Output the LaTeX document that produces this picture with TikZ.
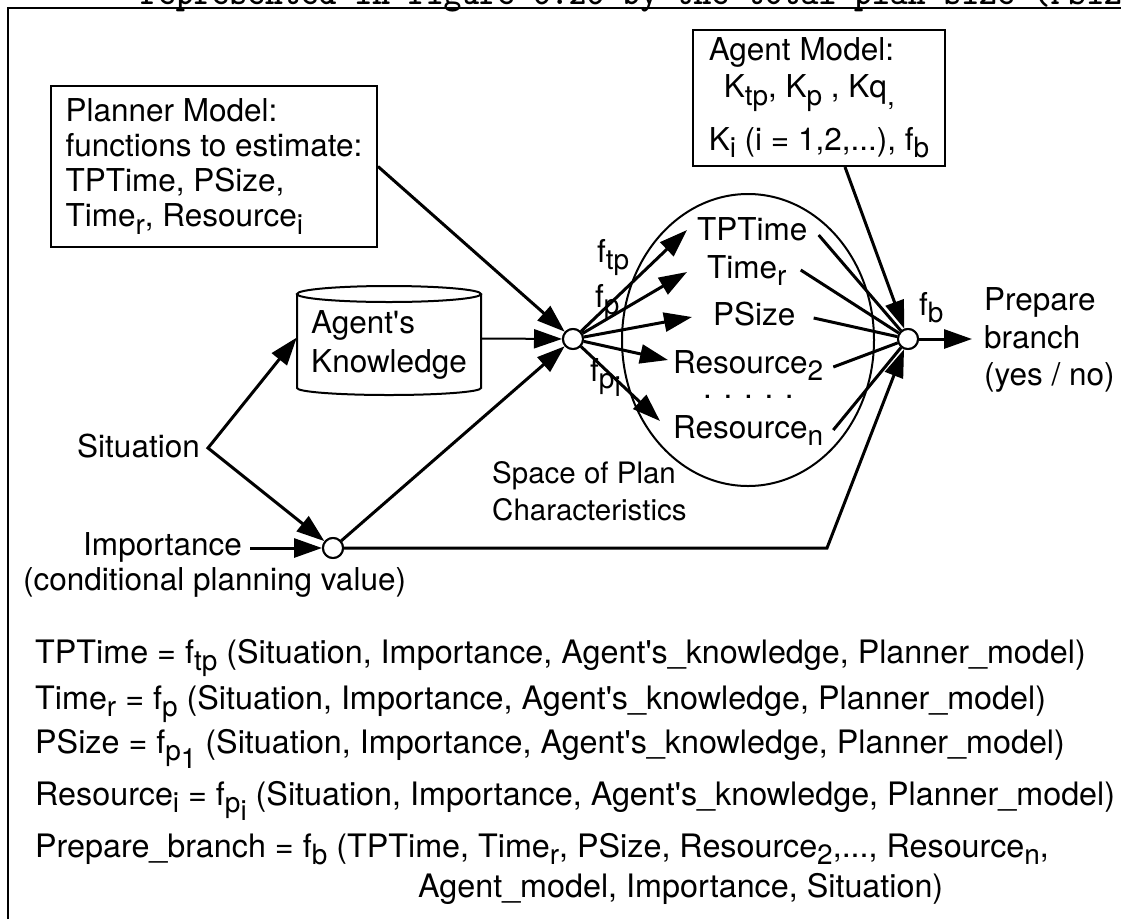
\documentclass[tikz,border=0pt]{standalone}
\usepackage{fontspec}
\setmainfont{TeX Gyre Heros}
\usetikzlibrary{arrows.meta,shapes.geometric,calc}
\newcommand{\lo}[1]{\raisebox{-7.5pt}{\fontsize{28}{30}\selectfont #1}}
\newcommand{\apo}{\textquotesingle}
\begin{document}
\begin{tikzpicture}[x=1pt,y=-1pt,
  font=\fontsize{31.5}{35}\selectfont,
  arr/.style={line width=3pt,-{Triangle[length=28pt,width=19pt]}},
  ln/.style={line width=3pt},
  box/.style={draw,line width=2pt,align=left},
  dot/.style={circle,draw,line width=2pt,fill=white,minimum size=20pt,inner sep=0pt},
  lbl/.style={inner sep=0pt,anchor=base west},
  eqn/.style={inner sep=0pt,anchor=base west,font=\fontsize{32.3}{36}\selectfont}]
\useasboundingbox (0,0) rectangle (1121,919);
\begin{scope}
\clip (0,0) rectangle (1121,919);
\node[inner sep=0pt,anchor=base west,font=\ttfamily\bfseries\fontsize{34}{34}\selectfont] (toptext) at (140,4)
  {\makebox[1015pt][s]{represented in figure 6.26 by the total plan size (PSize}};
\end{scope}
% frame
\draw[line width=2.5pt] (8,919) -- (8,8) -- (1121,8);

% boxes
\node[box,minimum width=326pt,minimum height=161pt,inner xsep=14pt] (pm) at (214,166.5)
  {Planner Model:\\functions to estimate:\\TPTime, PSize,\\Time\lo{r}, Resource\lo{i}};
\node[box,minimum width=252pt,minimum height=136pt,inner xsep=12pt] (am) at (819,98)
  {Agent Model:\\[2pt]\hspace*{15pt}K\lo{tp}, K\lo{p} , Kq\lo{,}\\[15pt]K\lo{i} (i = 1,2,...), f\lo{b}};

% cylinder
\node[inner sep=0pt,minimum width=184pt,minimum height=101pt,align=left] (ak) at (389,344.5)
  {Agent\apo s\\[4pt]Knowledge};
\draw[line width=2pt] (389,294) ellipse [x radius=92, y radius=8];
\draw[line width=2pt] (297,294) -- (297,388) arc[start angle=180,end angle=0,x radius=92,y radius=7] -- (481,294);

% ellipse
\node[ellipse,draw,line width=2pt,minimum width=252pt,minimum height=292pt,inner sep=0pt] (space) at (748,340) {};

% circles
\node[dot] (fp) at (573,339) {};
\node[dot] (fb) at (908,339) {};
\node[dot] (imp) at (333,548) {};
\coordinate (sit) at (208,448);
\coordinate (bend) at (827,548);
\coordinate (impstart) at (250,548);
\coordinate (outend) at (972,339);

% labels
\node[lbl] (tpt) at (697,240) {TPTime};
\node[lbl] (tr) at (707,278) {Time\lo{r}};
\node[lbl] (ps) at (713,325) {PSize};
\node[lbl] (r2) at (673,373) {Resource\lo{2}};
\node[lbl] (dots) at (703,398) {. . . . .};
\node[lbl] (rn) at (673,438) {Resource\lo{n}};
\node[lbl] (ftp) at (597,262) {f\lo{tp}};
\node[lbl] (fpl) at (595,307) {f\lo{p}};
\node[lbl] (fpi) at (590,381) {f\lo{p\lo{i}}};
\node[lbl] (fbl) at (919,315) {f\lo{b}};
\node[lbl] (pb1) at (984,310) {Prepare};
\node[lbl] (pb2) at (984,348) {branch};
\node[lbl] (pb3) at (984,385) {(yes / no)};
\node[inner sep=0pt,anchor=base east] (sitt) at (200,457) {Situation};
\node[lbl] (impt) at (83,555) {Importance};
\node[lbl] (cpv) at (23,590) {(conditional planning value)};
\node[lbl,font=\fontsize{29.5}{33}\selectfont] (sp1) at (492,483) {Space of Plan};
\node[lbl,font=\fontsize{29.5}{33}\selectfont] (sp2) at (492,520) {Characteristics};

% equations
\node[eqn] (eq1) at (35,663) {TPTime = f\lo{tp} (Situation, Importance, Agent\apo s\_knowledge, Planner\_model)};
\node[eqn] (eq2) at (35,709) {Time\lo{r} = f\lo{p} (Situation, Importance, Agent\apo s\_knowledge, Planner\_model)};
\node[eqn] (eq3) at (35,753) {PSize = f\lo{p\lo{1}} (Situation, Importance, Agent\apo s\_knowledge, Planner\_model)};
\node[eqn] (eq4) at (35,805) {Resource\lo{i} = f\lo{p\lo{i}} (Situation, Importance, Agent\apo s\_knowledge, Planner\_model)};
\node[eqn] (eq5) at (35,857) {Prepare\_branch = f\lo{b} (TPTime, Time\lo{r}, PSize, Resource\lo{2},..., Resource\lo{n},};
\node[eqn] (eq6) at (418,897) {Agent\_model, Importance, Situation)};

% connectors
\draw[arr] (pm.east) -- (fp);
\draw[arr,line width=2pt] ([yshift=6pt]ak.east) -- (fp);
\draw[line width=3pt,{Triangle[length=28pt,width=19pt]}-{Triangle[length=28pt,width=19pt]}] ([yshift=7pt]ak.west) -- (sit) -- (imp);
\draw[arr] (impstart) -- (imp);
\draw[arr] (imp) -- (fp);
\draw[arr] (imp) -- (bend) -- (fb);
\draw[arr] ([xshift=26pt]am.south) -- (fb);
\draw[arr] (fb) -- (outend);

\draw[arr] (fp) -- ($(tpt.base west)+(-10,-10)$);
\draw[arr] (fp) -- ($(tr.base west)+(-20,-6)$);
\draw[arr] (fp) -- ($(ps.base west)+(-21,-8)$);
\draw[arr] (fp) -- ($(r2.base west)+(-5,-13)$);
\draw[arr] (fp) -- ($(rn.base west)+(-13,-17)$);

\draw[ln] ($(tpt.base east)+(11,-5)$) -- (fb);
\draw[ln] ($(tr.base east)+(14,-8)$) -- (fb);
\draw[ln] ($(ps.base east)+(18,-7)$) -- (fb);
\draw[ln] ($(r2.base east)+(10,-6)$) -- (fb);
\draw[ln] ($(rn.base east)+(10,-8)$) -- (fb);

% redraw circles on top
\node[dot] at (fp) {};
\node[dot] at (fb) {};
\node[dot] at (imp) {};
\end{tikzpicture}
\end{document}
